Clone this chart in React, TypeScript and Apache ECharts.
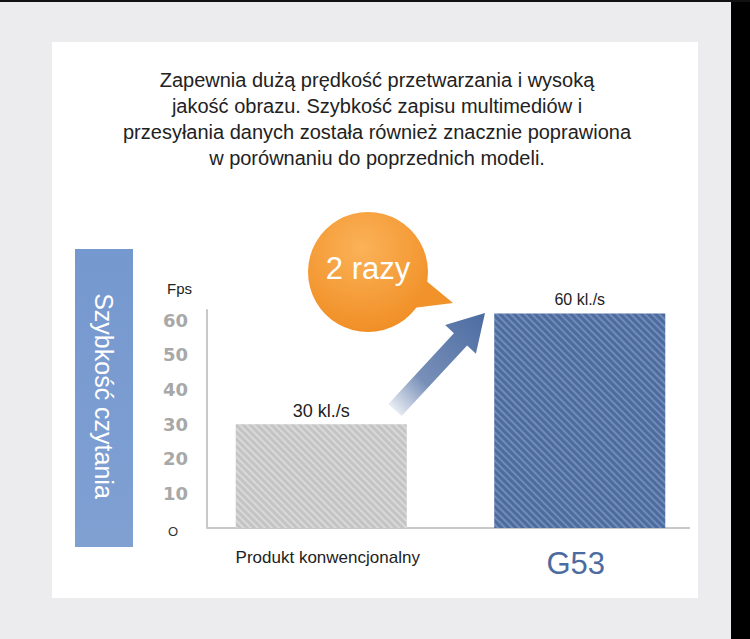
import React, { useEffect, useRef } from 'react';
import * as echarts from 'echarts';

const categories = ['Produkt konwencjonalny', 'G53'];
const fpsValues = [30, 62];
const valueLabels = ['30 kl./s', '60 kl./s'];
const barColors = ['#c4c4c4', '#4b6ba1'];
const stripeColors = ['rgba(255,255,255,0.35)', 'rgba(255,255,255,0.22)'];
const titleLines = [
  'Zapewnia dużą prędkość przetwarzania i wysoką',
  'jakość obrazu. Szybkość zapisu multimediów i',
  'przesyłania danych została również znacznie poprawiona',
  'w porównaniu do poprzednich modeli.',
];
const sideLabel = 'Szybkość czytania';
const bubbleText = '2 razy';
const axisName = 'Fps';

const FONT = "'Liberation Sans', Arial, sans-serif";

function arrowPoints(tx: number, ty: number, px: number, py: number) {
  const dx = px - tx;
  const dy = py - ty;
  const len = Math.sqrt(dx * dx + dy * dy);
  const ux = dx / len;
  const uy = dy / len;
  const nx = -uy;
  const ny = ux;
  const headLen = 36;
  const shaft = 9;
  const head = 21;
  const hx = px - headLen * ux;
  const hy = py - headLen * uy;
  return [
    [tx + shaft * nx, ty + shaft * ny],
    [hx + shaft * nx, hy + shaft * ny],
    [hx + head * nx, hy + head * ny],
    [px, py],
    [hx - head * nx, hy - head * ny],
    [hx - shaft * nx, hy - shaft * ny],
    [tx - shaft * nx, ty - shaft * ny],
  ];
}

export default function App() {
  const ref = useRef<HTMLDivElement>(null);
  useEffect(() => {
    const chart = echarts.init(ref.current!, null, { renderer: 'svg' });
    const option: any = {
      animation: false,
      backgroundColor: '#ececee',
      textStyle: { fontFamily: FONT },
      grid: { left: 192, right: 41, top: 310, bottom: 111 },
      xAxis: {
        type: 'category',
        data: categories,
        axisLine: { show: false },
        axisTick: { show: false },
        axisLabel: {
          margin: 17,
          interval: 0,
          formatter: (v: string, i: number) => (i === 0 ? `{a|${v}}` : `{b|${v}}`),
          rich: {
            a: { fontSize: 17, lineHeight: 22, color: '#222', padding: [3, 0, 0, 13], fontFamily: FONT },
            b: { fontSize: 31, lineHeight: 36, color: '#4b6ba1', padding: [0, 8, 0, 0], fontFamily: FONT },
          },
        },
      },
      yAxis: {
        type: 'value',
        min: 0,
        max: 63,
        interval: 10,
        offset: -15,
        name: axisName,
        nameLocation: 'end',
        nameGap: 14,
        nameTextStyle: { fontSize: 15, color: '#222', align: 'right', padding: [0, 15, 0, 0], fontFamily: FONT },
        axisLine: { show: true, lineStyle: { color: '#c8c8c8', width: 2 } },
        axisTick: { show: false },
        splitLine: { show: false },
        axisLabel: {
          margin: 19,
          fontSize: 18,
          fontWeight: 'bold',
          color: '#a8a8a8',
          fontFamily: "'DejaVu Sans', sans-serif",
          formatter: (v: number) => (v === 0 ? '{o|O}' : v % 10 === 0 ? String(v) : ''),
          rich: {
            o: { fontSize: 13, color: '#333', fontWeight: 'normal', padding: [6, 10, 0, 0], fontFamily: FONT },
          },
        },
      },
      series: [
        {
          type: 'bar',
          barWidth: 171,
          data: fpsValues.map((v, i) => ({
            value: v,
            itemStyle: {
              color: barColors[i],
              decal: {
                symbol: 'rect',
                symbolSize: 1,
                dashArrayX: [1, 0],
                dashArrayY: [1.5, 3],
                rotation: Math.PI / 4,
                color: stripeColors[i],
              },
            },
            label: {
              show: true,
              position: 'top',
              distance: i === 0 ? 4 : 6,
              fontSize: i === 0 ? 18 : 16,
              color: '#222',
              fontFamily: FONT,
              formatter: () => valueLabels[i],
            },
          })),
        },
      ],
      graphic: [
        { type: 'rect', z: -10, shape: { x: 731, y: 0, width: 19, height: 639 }, style: { fill: '#000' } },
        { type: 'rect', z: -10, shape: { x: 0, y: 0, width: 750, height: 2 }, style: { fill: '#111' } },
        { type: 'rect', z: -9, shape: { x: 52, y: 42, width: 646, height: 556 }, style: { fill: '#ffffff' } },
        {
          type: 'text',
          x: 377,
          y: 67,
          style: {
            text: titleLines.join('\n'),
            fontSize: 20,
            lineHeight: 26,
            fill: '#222',
            align: 'center',
            verticalAlign: 'top',
            fontFamily: FONT,
          },
        },
        {
          type: 'rect',
          shape: { x: 75, y: 249, width: 58, height: 298 },
          style: {
            fill: {
              type: 'linear', x: 0, y: 0, x2: 0, y2: 1,
              colorStops: [
                { offset: 0, color: '#7598cf' },
                { offset: 1, color: '#80a0d2' },
              ],
            },
          },
        },
        {
          type: 'text',
          x: 104,
          y: 396,
          rotation: -Math.PI / 2,
          style: {
            text: sideLabel,
            fontSize: 25,
            fill: '#ffffff',
            align: 'center',
            verticalAlign: 'middle',
            fontFamily: FONT,
          },
        },
        {
          type: 'line',
          shape: { x1: 207, y1: 528, x2: 690, y2: 528 },
          style: { stroke: '#c8c8c8', lineWidth: 2 },
        },
        {
          type: 'polygon',
          shape: { points: arrowPoints(395, 410, 485, 313) },
          style: {
            fill: {
              type: 'linear', x: 0, y: 1, x2: 1, y2: 0,
              colorStops: [
                { offset: 0, color: 'rgba(75,107,161,0)' },
                { offset: 0.35, color: 'rgba(75,107,161,0.75)' },
                { offset: 1, color: '#4b6ba1' },
              ],
            },
          },
        },
        {
          type: 'polygon',
          shape: { points: [[424, 279], [453, 303], [413, 308]] },
          style: { fill: '#f2922a' },
        },
        {
          type: 'circle',
          shape: { cx: 368, cy: 272, r: 60 },
          style: {
            fill: {
              type: 'radial', x: 0.45, y: 0.3, r: 0.8,
              colorStops: [
                { offset: 0, color: '#fbb258' },
                { offset: 1, color: '#ef8a1f' },
              ],
            },
          },
        },
        {
          type: 'text',
          x: 368,
          y: 268,
          style: {
            text: bubbleText,
            fontSize: 31,
            fill: '#ffffff',
            align: 'center',
            verticalAlign: 'middle',
            fontFamily: FONT,
          },
        },
      ],
    };
    chart.setOption(option);
    return () => chart.dispose();
  }, []);
  return <div ref={ref} style={{ position: 'fixed', left: 0, top: 0, width: 750, height: 639 }} />;
}
